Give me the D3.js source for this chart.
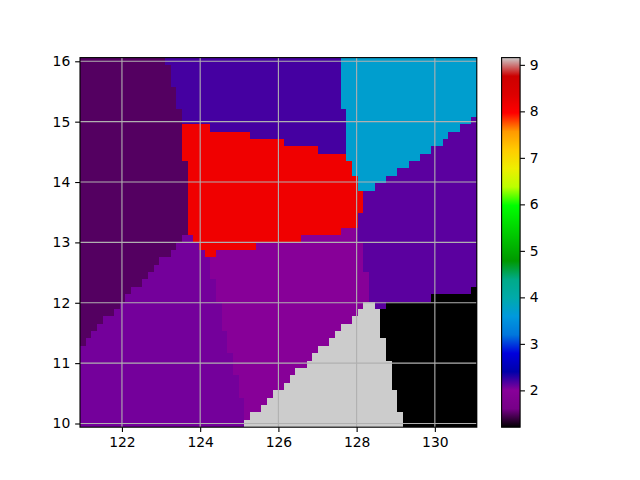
<!DOCTYPE html>
<html lang="en">
<head>
<meta charset="UTF-8">
<title>Zone map</title>
<script src="https://cdn.jsdelivr.net/npm/d3@7"></script>
<style>
  body { margin: 0; background: #ffffff; }
  svg text { font-family: "DejaVu Sans", sans-serif; font-size: 13.9px; fill: #000; }
  .mesh rect { shape-rendering: crispEdges; }
  .grid line { stroke: #b0b0b0; stroke-width: 1.1; }
</style>
</head>
<body>
<svg id="chart" width="640" height="480"></svg>
<script>
// grid of cell centres: lon 121..131 (70 cols), lat 16..10 (50 rows, top row first)
const lonFirst = 121, lonLast = 131, nLon = 70;
const latFirst = 16, latLast = 10, nLat = 50;

// value of each zone
const zoneKeys   = ["A", "B", "C", "R", "D", "E", "F", "G", "K"];
const zoneValues = [1.49, 2.20, 3.71, 8.14, 2.135, 1.98, 2.06, 9.156, 1.208];

// zone runs per row (letter + number of cells), top row first
const zoneRows = [
  "A15 B31 C24",
  "A16 B30 C24",
  "A16 B30 C24",
  "A16 B30 C24",
  "A17 B29 C24",
  "A17 B29 C24",
  "A17 B29 C24",
  "A18 B29 C23",
  "A18 B29 C22 D1",
  "A18 R5 B24 C20 D3",
  "A18 R12 B17 C18 D5",
  "A18 R18 B11 C17 D6",
  "A18 R24 B5 C15 D8",
  "A18 R29 C13 D10",
  "A19 R29 C10 D12",
  "A19 R29 C8 D14",
  "A19 R30 C5 D16",
  "A19 R30 C3 D18",
  "A19 R31 D20",
  "A19 R31 D20",
  "A19 R31 D20",
  "A19 R30 D21",
  "A19 R30 D21",
  "A19 R27 E3 D21",
  "A18 F2 R19 E10 D21",
  "A17 F4 R10 E19 D20",
  "A16 F6 R2 E26 D20",
  "A14 F9 E27 D20",
  "A13 F10 E27 D20",
  "A12 F11 E28 D19",
  "A11 F13 E27 D19",
  "A9 F15 E27 D18 K1",
  "A8 F16 E27 D11 K8",
  "A7 F18 E25 G2 D2 K16",
  "A6 F19 E24 G4 K17",
  "A4 F21 E23 G5 K17",
  "A3 F22 E21 G7 K17",
  "A2 F24 E19 G8 K17",
  "A1 F25 E18 G10 K16",
  "F26 E16 G12 K16",
  "F27 E14 G13 K16",
  "F27 E13 G15 K15",
  "F27 E11 G17 K15",
  "F28 E9 G18 K15",
  "F28 E8 G19 K15",
  "F28 E6 G22 K14",
  "F29 E4 G23 K14",
  "F29 E3 G24 K14",
  "F29 E1 G27 K13",
  "F29 G28 K13"
];

const xTicks = [122, 124, 126, 128, 130];
const yTicks = [10, 11, 12, 13, 14, 15, 16];
const cbarTicks = [2, 3, 4, 5, 6, 7, 8, 9];

// nipy_spectral colour stops, every 0.05
const nipySpectral = ["#000000", "#770088", "#880099", "#0000aa", "#0000dd", "#0077dd", "#0099dd",
  "#00aaaa", "#00aa88", "#009900", "#00bb00", "#00dd00", "#00ff00", "#bbff00", "#eeee00",
  "#ffcc00", "#ff9900", "#ff0000", "#dd0000", "#cc0000", "#cccccc"];

const svg = d3.select("#chart");
const plot = { left: 80, right: 476.8, top: 57.6, bottom: 427.2 };
const cbar = { left: 501.6, right: 520.1 };

const dLon = (lonLast - lonFirst) / (nLon - 1);
const dLat = (latFirst - latLast) / (nLat - 1);

const x = d3.scaleLinear()
  .domain([lonFirst - dLon / 2, lonLast + dLon / 2])
  .range([plot.left, plot.right]);
const y = d3.scaleLinear()
  .domain([latLast - dLat / 2, latFirst + dLat / 2])
  .range([plot.bottom, plot.top]);

const [vmin, vmax] = d3.extent(zoneValues);
const color = d3.scaleLinear()
  .domain(nipySpectral.map((c, i) => vmin + (vmax - vmin) * i / (nipySpectral.length - 1)))
  .range(nipySpectral)
  .clamp(true);

const zoneValue = {};
zoneKeys.forEach((k, i) => zoneValue[k] = zoneValues[i]);

// decode the runs into cells (one rect per run)
const runs = [];
zoneRows.forEach((row, r) => {
  let c = 0;
  row.split(" ").forEach(tok => {
    const n = +tok.slice(1);
    runs.push({ row: r, c0: c, c1: c + n - 1, value: zoneValue[tok[0]] });
    c += n;
  });
});

svg.append("g").attr("class", "mesh")
  .selectAll("rect")
  .data(runs)
  .enter()
  .append("rect")
  .attr("x", d => x(lonFirst + d.c0 * dLon - dLon / 2))
  .attr("width", d => x(lonFirst + d.c1 * dLon + dLon / 2) - x(lonFirst + d.c0 * dLon - dLon / 2))
  .attr("y", d => y(latFirst - d.row * dLat + dLat / 2))
  .attr("height", d => y(latFirst - d.row * dLat - dLat / 2) - y(latFirst - d.row * dLat + dLat / 2))
  .attr("fill", d => color(d.value));

// grid on top of the mesh
const grid = svg.append("g").attr("class", "grid");
grid.selectAll(".gx").data(xTicks).enter().append("line")
  .attr("x1", d => x(d)).attr("x2", d => x(d))
  .attr("y1", plot.top).attr("y2", plot.bottom);
grid.selectAll(".gy").data(yTicks).enter().append("line")
  .attr("x1", plot.left).attr("x2", plot.right)
  .attr("y1", d => y(d)).attr("y2", d => y(d));

// axes
const tickLen = 4.86, tickPad = 4.86;
const intFmt = d3.format("d");
const xAxis = svg.append("g")
  .attr("transform", `translate(0,${plot.bottom})`)
  .call(d3.axisBottom(x).tickValues(xTicks).tickFormat(intFmt)
    .tickSizeInner(tickLen).tickSizeOuter(0).tickPadding(tickPad));
const yAxis = svg.append("g")
  .attr("transform", `translate(${plot.left},0)`)
  .call(d3.axisLeft(y).tickValues(yTicks).tickFormat(intFmt)
    .tickSizeInner(tickLen).tickSizeOuter(0).tickPadding(tickPad));
[xAxis, yAxis].forEach(a => {
  a.select(".domain").remove();
  a.selectAll("line").attr("stroke", "#000").attr("stroke-width", 1.1);
  a.selectAll("text").attr("font-size", null).attr("font-family", null);
});

svg.append("rect")
  .attr("x", plot.left).attr("y", plot.top)
  .attr("width", plot.right - plot.left).attr("height", plot.bottom - plot.top)
  .attr("fill", "none").attr("stroke", "#000").attr("stroke-width", 1.1);

// colorbar
const defs = svg.append("defs");
const grad = defs.append("linearGradient")
  .attr("id", "cbarGrad")
  .attr("x1", 0).attr("y1", 1).attr("x2", 0).attr("y2", 0);
grad.selectAll("stop")
  .data(nipySpectral)
  .enter()
  .append("stop")
  .attr("offset", (d, i) => i / (nipySpectral.length - 1))
  .attr("stop-color", d => d);

const cy = d3.scaleLinear().domain([vmin, vmax]).range([plot.bottom, plot.top]);

svg.append("rect")
  .attr("x", cbar.left).attr("y", plot.top)
  .attr("width", cbar.right - cbar.left).attr("height", plot.bottom - plot.top)
  .attr("fill", "url(#cbarGrad)");

const cAxis = svg.append("g")
  .attr("transform", `translate(${cbar.right},0)`)
  .call(d3.axisRight(cy).tickValues(cbarTicks).tickFormat(intFmt)
    .tickSizeInner(tickLen).tickSizeOuter(0).tickPadding(tickPad));
cAxis.select(".domain").remove();
cAxis.selectAll("line").attr("stroke", "#000").attr("stroke-width", 1.1);
cAxis.selectAll("text").attr("font-size", null).attr("font-family", null);

svg.append("rect")
  .attr("x", cbar.left).attr("y", plot.top)
  .attr("width", cbar.right - cbar.left).attr("height", plot.bottom - plot.top)
  .attr("fill", "none").attr("stroke", "#000").attr("stroke-width", 1.1);
</script>
</body>
</html>
